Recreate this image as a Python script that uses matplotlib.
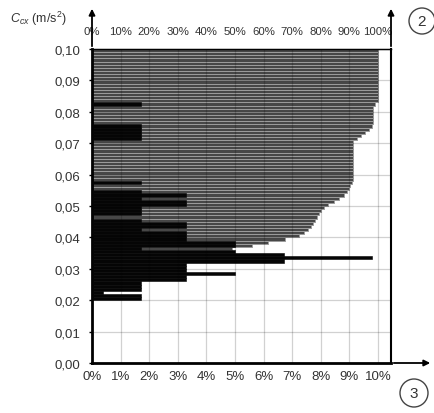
import numpy as np
import matplotlib
matplotlib.use("Agg")
import matplotlib.pyplot as plt
from matplotlib.patches import Ellipse, FancyArrowPatch

plt.rcParams['font.family'] = ['Liberation Sans', 'DejaVu Sans']
plt.rcParams['mathtext.fontset'] = 'custom'
plt.rcParams['mathtext.rm'] = 'Liberation Sans'
plt.rcParams['mathtext.it'] = 'Liberation Sans:italic'

# histogram (bottom scale, %), one bin per 0.001 m/s2, lower edges 0.020 .. 0.099
hist_lo = np.arange(20, 100) / 1000
hist_pct = [1.7, 1.7, 0.4, 1.7, 1.7, 1.7, 3.3, 3.3, 5.0, 3.3,      # 0.020-0.029
            3.3, 3.3, 6.7, 9.8, 6.7, 5.0, 1.7, 5.0, 5.0, 3.3,      # 0.030-0.039
            3.3, 3.3, 1.7, 3.3, 3.3, 1.7, 0.0, 1.7, 1.7, 1.7,      # 0.040-0.049
            3.3, 3.3, 1.7, 3.3, 1.7, 0.0, 0.0, 1.7, 0.0, 0.0,      # 0.050-0.059
            0.0, 0.0, 0.0, 0.0, 0.0, 0.0, 0.0, 0.0, 0.0, 0.0,      # 0.060-0.069
            0.0, 1.7, 1.7, 1.7, 1.7, 1.7, 0.0, 0.0, 0.0, 0.0,      # 0.070-0.079
            0.0, 0.0, 1.7, 0.0, 0.0, 0.0, 0.0, 0.0, 0.0, 0.0,      # 0.080-0.089
            0.0, 0.0, 0.0, 0.0, 0.0, 0.0, 0.0, 0.0, 0.0, 0.0]      # 0.090-0.099

# cumulative (top scale, %), lower edges 0.036 .. 0.099
cum_lo = np.arange(36, 100) / 1000
cum_pct = [49, 56, 61.5, 67.5,                                      # 0.036-0.039
           72.5, 74, 75.5, 76.5, 77.3, 78, 78.7, 79.5, 80, 81,      # 0.040-0.049
           82.5, 84.5, 86.5, 88, 89, 89.8, 90.3, 91, 91.3, 91.3,    # 0.050-0.059
           91.3, 91.3, 91.3, 91.3, 91.3, 91.3, 91.3, 91.3, 91.3, 91.3,
           91.3, 92.5, 94, 95.5, 97, 97.8, 98.2, 98.2, 98.2, 98.2,  # 0.070-0.079
           98.2, 98.2, 99, 100, 100, 100, 100, 100, 100, 100,       # 0.080-0.089
           100, 100, 100, 100, 100, 100, 100, 100, 100, 100]        # 0.090-0.099

bottom_ticks = list(range(0, 11))
bottom_labels = ['%d%%' % t for t in bottom_ticks]
top_ticks = list(range(0, 101, 10))
top_labels = ['%d%%' % t for t in top_ticks]
y_ticks = [i / 100 for i in range(0, 11)]
y_labels = ['%.2f' % v for v in y_ticks]
y_labels = [s.replace('.', ',') for s in y_labels]

W, H = 434, 414
fig = plt.figure(figsize=(W / 100, H / 100), dpi=100)
ax = fig.add_axes([92 / W, 1 - 364 / H, (391 - 92) / W, (364 - 50) / H])

# cumulative: grey striped bars, 100% on top scale == 10% on bottom scale
ax.barh(cum_lo, np.array(cum_pct) / 10, height=0.001, align='edge',
        color='#474747', edgecolor='#9c9c9c', linewidth=0.7, zorder=2)
# histogram: black bars
ax.barh(hist_lo, hist_pct, height=0.001, align='edge',
        color='#050505', edgecolor='#050505', linewidth=0.4, zorder=3)

ax.set_xlim(0, 10 * (391 - 92) / (378 - 92))
ax.set_ylim(0, 0.10)

# grid drawn on top, semi-transparent so it darkens on grey
for t in bottom_ticks[1:]:
    ax.axvline(t, color='k', alpha=0.18, lw=0.9, zorder=4)
for v in y_ticks[1:]:
    ax.axhline(v, color='k', alpha=0.18, lw=0.9, zorder=4)

ax.set_xticks(bottom_ticks)
ax.set_xticklabels(bottom_labels, fontsize=9.5, color='#333')
ax.set_yticks(y_ticks)
ax.set_yticklabels(y_labels, fontsize=9.5, color='#333')
ax.tick_params(axis='x', length=0, pad=5)
ax.tick_params(axis='y', length=2.5, width=1, pad=6)

for side in ['left', 'bottom']:
    ax.spines[side].set_linewidth(2)
ax.spines['right'].set_linewidth(1.5)
ax.spines['top'].set_linewidth(1)

top = ax.secondary_xaxis('top', functions=(lambda x: x * 10, lambda x: x / 10))
top.set_xticks(top_ticks)
top.set_xticklabels(top_labels, fontsize=8.2, color='#333')
top.tick_params(length=0, pad=9)

# axis arrows
def arrow(x0, y0, x1, y1):
    a = FancyArrowPatch((x0 / W, 1 - y0 / H), (x1 / W, 1 - y1 / H),
                        transform=fig.transFigure, arrowstyle='-|>',
                        mutation_scale=9, lw=1.3, color='k')
    fig.add_artist(a)

arrow(92, 50, 92, 7)
arrow(391, 50, 391, 7)
arrow(391, 364, 433, 364)

# circled numbers
for cx, cy, r, s in [(422, 22, 13, '2'), (414, 394, 14, '3')]:
    fig.add_artist(Ellipse((cx / W, 1 - cy / H), 2 * r / W, 2 * r / H,
                           transform=fig.transFigure, fill=False,
                           lw=1, color='#444'))
    fig.text(cx / W, 1 - cy / H, s, ha='center', va='center',
             fontsize=11, color='#333')

fig.text(10 / W, 1 - 19 / H, r'$C_{cx}$ (m/s$^2$)', ha='left', va='center',
         fontsize=9, color='#333')

fig.savefig('out.png', dpi=100)
